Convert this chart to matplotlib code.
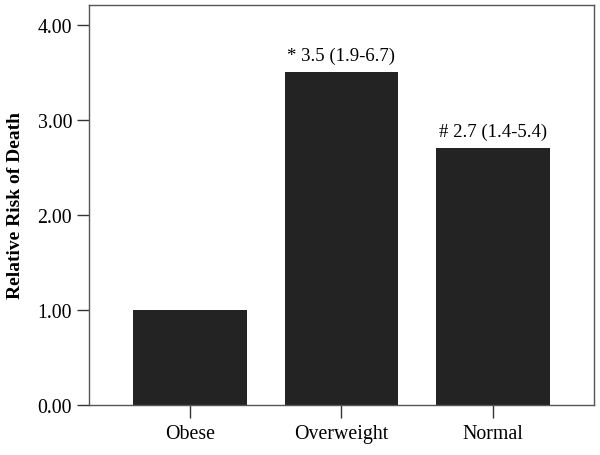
import matplotlib
matplotlib.use("Agg")
import matplotlib.pyplot as plt

# --- Data ---
groups = ["Obese", "Overweight", "Normal"]
risk = [1.0, 3.5, 2.7]
notes = ["", "* 3.5 (1.9-6.7)", "# 2.7 (1.4-5.4)"]
yticks = [0.0, 1.0, 2.0, 3.0, 4.0]

plt.rcParams["font.family"] = ["Liberation Serif", "DejaVu Serif"]

fig = plt.figure(figsize=(6, 4.56), dpi=100)
ax = fig.add_axes([0.148, 0.1096, 0.842, 0.878])

x = range(len(groups))
bars = ax.bar(x, risk, width=0.75, color="#232323")

for b, txt in zip(bars, notes):
    if txt:
        ax.annotate(txt, (b.get_x() + b.get_width() / 2, b.get_height()),
                    xytext=(0, 6), textcoords="offset points",
                    ha="center", va="bottom", fontsize=13.5)

ax.set_xlim(-0.667, 2.667)
ax.set_ylim(0, 4.21)
ax.set_xticks(list(x))
ax.set_xticklabels(groups)
ax.set_yticks(yticks)
ax.set_yticklabels([f"{v:.2f}" for v in yticks])
ax.tick_params(direction="out", length=9, width=1, colors="#333333",
               labelsize=14.3, labelcolor="black", pad=3)
ax.tick_params(axis="x", pad=5)
ax.set_ylabel("Relative Risk of Death", fontsize=14, fontweight="bold", labelpad=10)

for s in ax.spines.values():
    s.set_color("#555555")
    s.set_linewidth(1)

fig.savefig("out.png", dpi=100)
